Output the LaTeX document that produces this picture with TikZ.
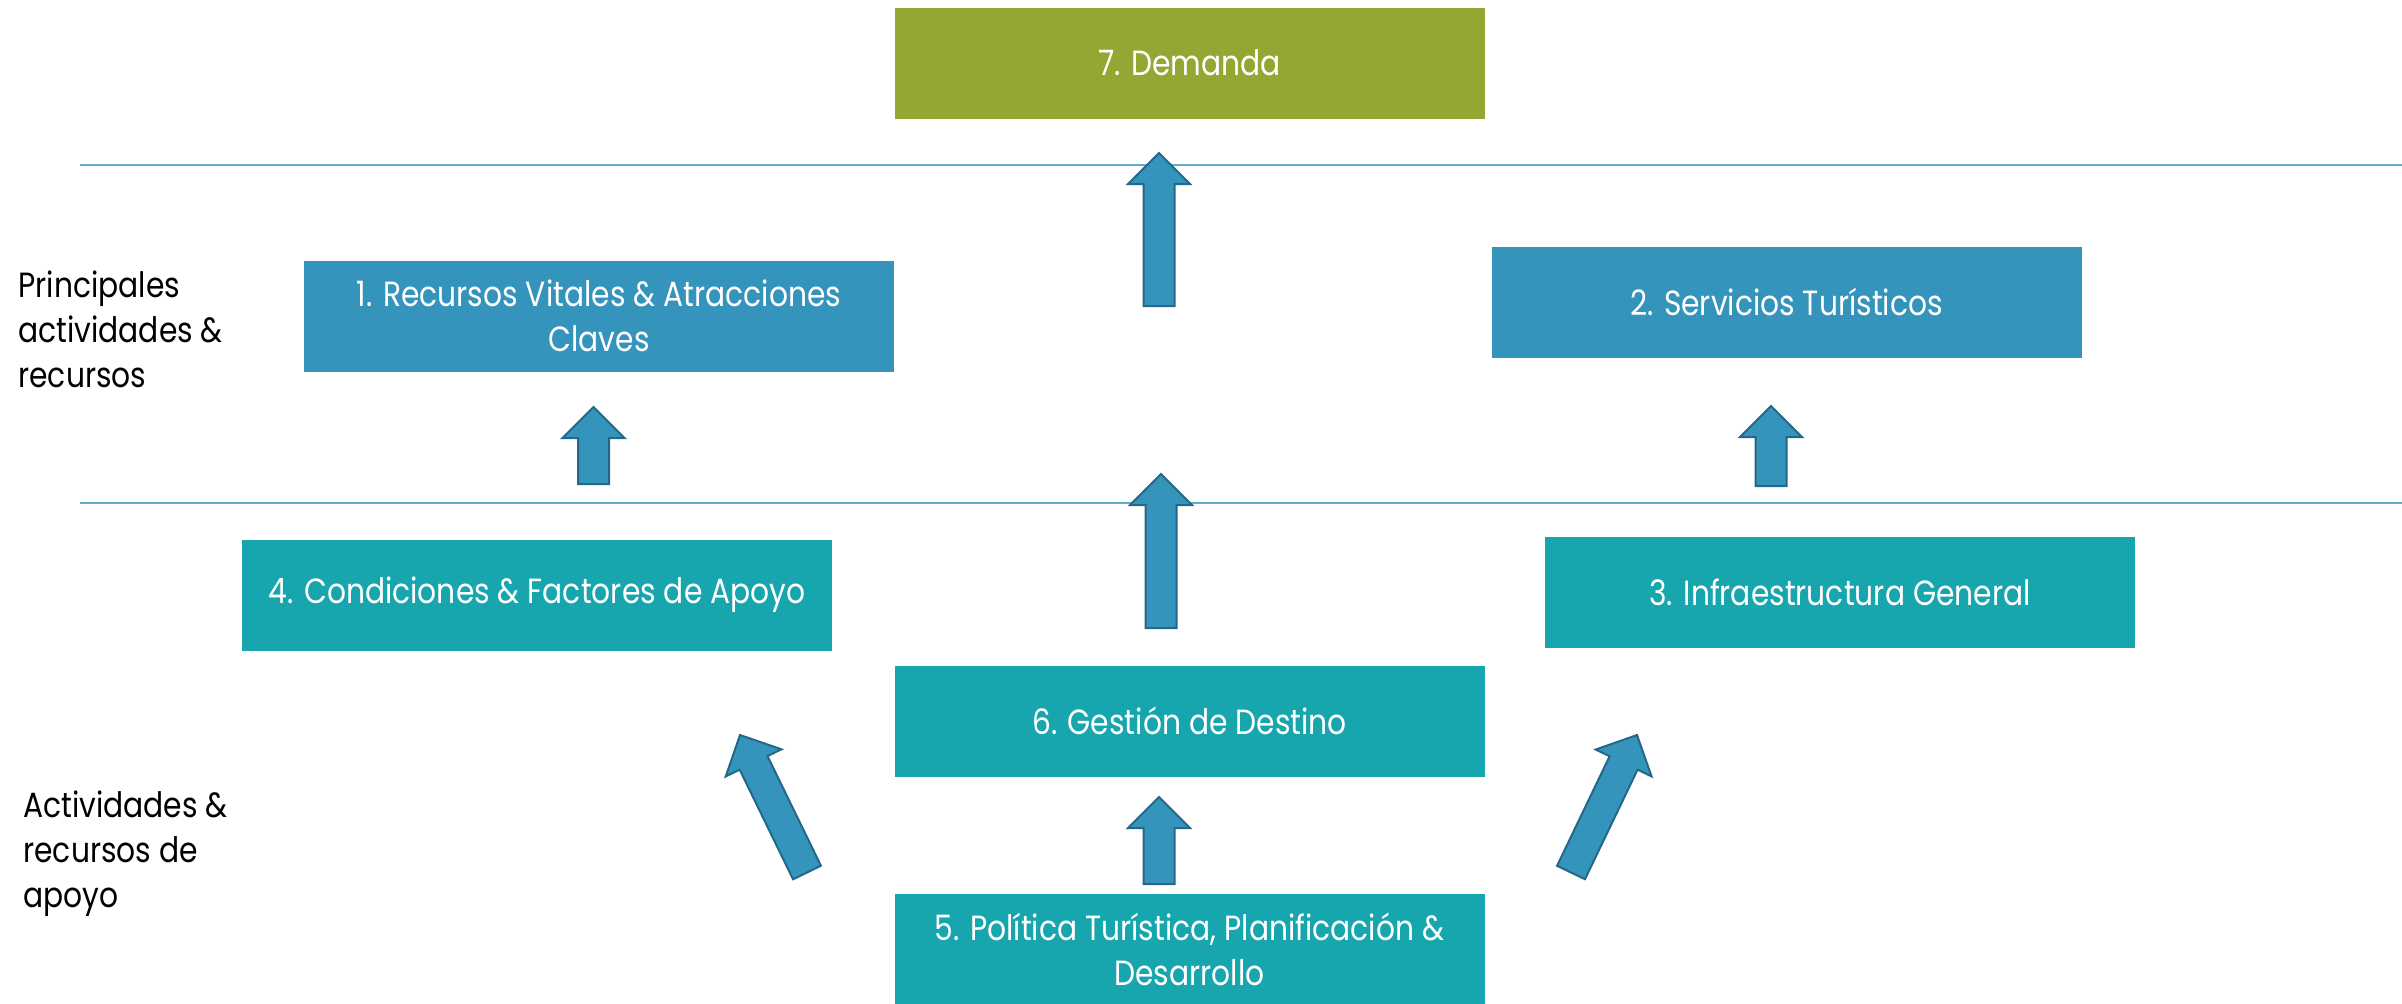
\documentclass[tikz,border=0pt]{standalone}
\usepackage{fontspec}
\setmainfont{Poppins}[FakeStretch=0.85]
\usetikzlibrary{calc}
\definecolor{olive}{RGB}{147,168,51}
\definecolor{boxblue}{RGB}{52,148,187}
\definecolor{boxteal}{RGB}{23,166,174}
\definecolor{arrowfill}{RGB}{52,148,187}
\definecolor{arrowedge}{RGB}{35,104,136}
\definecolor{rule}{RGB}{100,172,206}
\tikzset{
  panel/.style={minimum width=295pt, minimum height=55.5pt, inner sep=0pt,
    text=white, align=center, font=\fontsize{17.5}{22.5}\selectfont},
  olivebox/.style={panel, fill=olive},
  bluebox/.style={panel, fill=boxblue},
  tealbox/.style={panel, fill=boxteal},
  sidelabel/.style={anchor=base west, inner sep=0pt, align=left, text=black,
    font=\fontsize{17.5}{22.5}\selectfont},
  divider/.style={draw=rule, line width=1pt},
  blockarrow/.style={fill=arrowfill, draw=arrowedge, line width=1pt, line join=miter}
}
% block arrow from tail coordinate #1 to tip coordinate #2
\newcommand{\blockarrow}[2]{%
  \coordinate (hb) at ($(#2)!15.5pt!(#1)$);
  \path[blockarrow]
    ($(#1)!7.75pt!90:(#2)$) -- ($(hb)!7.75pt!-90:(#1)$) --
    ($(hb)!15.5pt!-90:(#1)$) -- (#2) -- ($(hb)!15.5pt!90:(#1)$) --
    ($(hb)!7.75pt!90:(#1)$) -- ($(#1)!7.75pt!-90:(#2)$) -- cycle;
}
\begin{document}
\begin{tikzpicture}[x=0.5pt, y=-0.5pt]
\useasboundingbox (0,0) rectangle (2402,1003);

% horizontal dividers
\coordinate (r1a) at (80,164.5);  \coordinate (r1b) at (2402,164.5);
\coordinate (r2a) at (80,502.5);  \coordinate (r2b) at (2402,502.5);
\draw[divider] (r1a) -- (r1b);
\draw[divider] (r2a) -- (r2b);

% boxes
\node[olivebox] (n7) at (1189.5,63) {7. Demanda};
\node[bluebox]  (n1) at (599,316) {1. Recursos Vitales \& Atracciones\\Claves};
\node[bluebox]  (n2) at (1786.5,302) {2. Servicios Turísticos};
\node[tealbox]  (n4) at (537,595) {4. Condiciones \& Factores de Apoyo};
\node[tealbox]  (n3) at (1840,592) {3. Infraestructura General};
\node[tealbox]  (n6) at (1189.5,721) {6. Gestión de Destino};
\node[tealbox]  (n5) at (1189.5,949) {5. Política Turística, Planificación \&\\Desarrollo};

% side labels (anchored at the baseline of their last line)
\node[sidelabel] (lab1) at (18,387) {Principales\\actividades \&\\recursos};
\node[sidelabel] (lab2) at (23,907) {Actividades \&\\recursos de\\apoyo};

% block arrows: tail and tip points
\coordinate (t7) at (1159,306);   \coordinate (h7) at (1159,153);
\coordinate (t1) at (593.5,484);  \coordinate (h1) at (593.5,407);
\coordinate (t2) at (1771,486);   \coordinate (h2) at (1771,406);
\coordinate (tc) at (1161,628);   \coordinate (hc) at (1161,474);
\coordinate (t6) at (1159,884);   \coordinate (h6) at (1159,797);
\coordinate (tl) at (807,872.5);  \coordinate (hl) at (740,735);
\coordinate (tr) at (1571,872.5); \coordinate (hr) at (1637,735);

\blockarrow{t7}{h7}
\blockarrow{t1}{h1}
\blockarrow{t2}{h2}
\blockarrow{tc}{hc}
\blockarrow{t6}{h6}
\blockarrow{tl}{hl}
\blockarrow{tr}{hr}
\end{tikzpicture}
\end{document}
